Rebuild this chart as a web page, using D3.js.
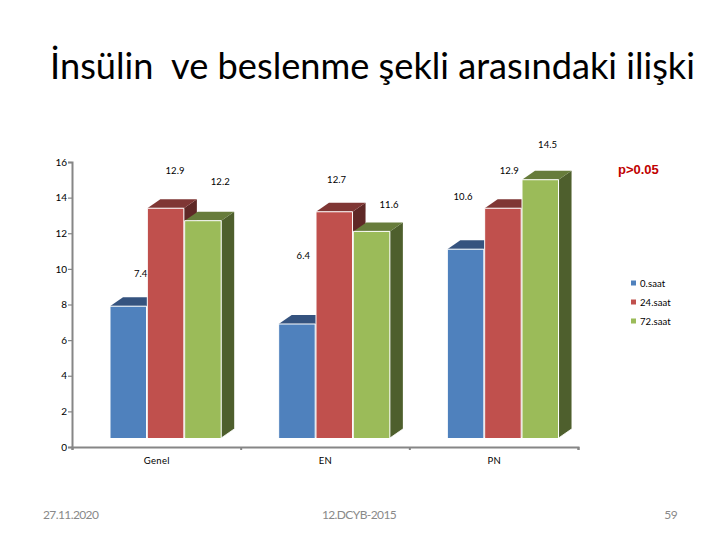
<!DOCTYPE html>
<html><head><meta charset="utf-8">
<script src="https://cdn.jsdelivr.net/npm/d3@7"></script>
<style>html,body{margin:0;padding:0;background:#fff}svg{display:block}</style>
</head><body><svg id="c" width="720" height="540"></svg>
<script>
const titleText = "İnsülin  ve beslenme şekli arasındaki ilişki";
const categories = ["Genel", "EN", "PN"];
const seriesNames = ["0.saat", "24.saat", "72.saat"];
const saat0 = [7.4, 6.4, 10.6];
const saat24 = [12.9, 12.7, 12.9];
const saat72 = [12.2, 11.6, 14.5];
const yTicks = [0, 2, 4, 6, 8, 10, 12, 14, 16];
const pNote = "p>0.05";
const footerLeft = "27.11.2020", footerMid = "12.DCYB-2015", footerRight = "59";

const seriesValues = [saat0, saat24, saat72];
const frontCol = ["#4f81bd", "#c0504d", "#9bbb59"];
const topCol = ["#35537f", "#7f3634", "#677c3b"];
const sideCol = ["#2c4468", "#5f2826", "#4e5f2d"];
// hand-placed data label anchors (as in the source slide): per series, per category, offset from the bar's top centre
const labelDx = [[12, 6, -3], [9, 2, 6], [17, 17, 7]];
const labelDy = [[-33, -69, -53], [-38, -32, -38], [-39, -27, -35]];

const svg = d3.select("#c");
const y = d3.scaleLinear().domain([0, 16]).range([447, 162]);
const x = d3.scaleBand().domain(categories).range([72, 578]);
const inner = d3.scaleBand().domain(d3.range(3)).range([38, 150]);
const base = 438, dx = 13, dy = 9;
const unit = y(0) - y(1);
const topY = v => base - v * unit;
const font = "Lato, Carlito, sans-serif";

svg.append("text").attr("x", 372.5).attr("y", 79).attr("text-anchor", "middle")
  .attr("font-family", font).attr("font-size", 36.2).attr("fill", "#000")
  .style("white-space", "pre").text(titleText);

const g = svg.append("g");
categories.forEach((c, ci) => {
  seriesValues.forEach((vals, si) => {
    const x0 = x(c) + inner(si), w = inner.bandwidth() - 0.8, t = topY(vals[ci]);
    const b = g.append("g");
    b.append("path").attr("fill", sideCol[si])
      .attr("d", d3.line()([[x0 + w, t], [x0 + w + dx, t - dy], [x0 + w + dx, base - dy], [x0 + w, base]]) + "Z");
    b.append("path").attr("fill", topCol[si])
      .attr("d", d3.line()([[x0, t], [x0 + dx, t - dy], [x0 + w + dx, t - dy], [x0 + w, t]]) + "Z");
    b.append("rect").attr("x", x0).attr("y", t).attr("width", w).attr("height", base - t)
      .attr("fill", frontCol[si]);
    b.append("path").attr("fill", "none").attr("stroke", "#fff").attr("stroke-width", 1)
      .attr("d", d3.line()([[x0, base], [x0, t], [x0 + w, t], [x0 + w, base]]));
    b.append("path").attr("fill", "none").attr("stroke", "#fff").attr("stroke-width", 0.8)
      .attr("d", d3.line()([[x0 + w, base], [x0 + w + dx, base - dy]]));
  });
});
// labels on top of every bar
categories.forEach((c, ci) => {
  seriesValues.forEach((vals, si) => {
    const x0 = x(c) + inner(si), w = inner.bandwidth();
    svg.append("text").attr("x", x0 + w / 2 + labelDx[si][ci]).attr("y", topY(vals[ci]) + labelDy[si][ci] + 3.5)
      .attr("text-anchor", "middle").attr("font-family", font).attr("font-size", 9.5)
      .attr("letter-spacing", 0.1).attr("fill", "#000").text(vals[ci].toFixed(1));
  });
});

// axes
const yAxis = d3.axisLeft(y).tickValues(yTicks).tickSize(4).tickFormat(d3.format("d"));
const ya = svg.append("g").attr("transform", "translate(72,0)").call(yAxis);
const xTickVals = d3.range(4).map(i => 72 + i * x.step());
const xa = svg.append("g").attr("transform", "translate(0,447)").call(
  d3.axisBottom(d3.scaleIdentity().domain([72, 578])).tickValues(xTickVals).tickSize(3).tickFormat(""));
[ya, xa].forEach(a => {
  a.selectAll("path,line").attr("stroke", "#868686").attr("stroke-width", 2);
});
ya.selectAll("line").attr("stroke-width", 1.2);
ya.selectAll("text").attr("font-family", font).attr("font-size", 10).attr("fill", "#000").attr("x", -5);

categories.forEach(c => {
  svg.append("text").attr("x", x(c) + x.bandwidth() / 2 + 0.5).attr("y", 464).attr("text-anchor", "middle")
    .attr("font-family", font).attr("font-size", 9.5).attr("letter-spacing", 0.3).attr("fill", "#000").text(c);
});

// legend
const ly = d3.scalePoint().domain(seriesNames).range([283, 321]);
seriesNames.forEach((s, i) => {
  svg.append("rect").attr("x", 631).attr("y", ly(s) - 2.5).attr("width", 5).attr("height", 5).attr("fill", frontCol[i]);
  svg.append("text").attr("x", 640).attr("y", ly(s) + 3.5).attr("font-family", font).attr("font-size", 9.5)
    .attr("letter-spacing", 0.1).attr("fill", "#000").text(s);
});

svg.append("text").attr("x", 618).attr("y", 174).attr("font-family", "'Liberation Sans', Arial, sans-serif")
  .attr("font-size", 13).attr("font-weight", "bold").attr("fill", "#c00000").text(pNote);

const footer = (t, xp, anchor) => svg.append("text").attr("x", xp).attr("y", 519).attr("text-anchor", anchor)
  .attr("font-family", font).attr("font-size", 12).attr("letter-spacing", -0.6).attr("fill", "#898989").text(t);
footer(footerLeft, 43, "start");
footer(footerMid, 359, "middle");
footer(footerRight, 677, "end");
</script></body></html>
